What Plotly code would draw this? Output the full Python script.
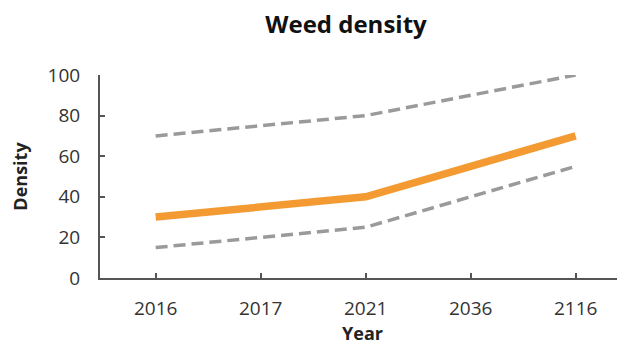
import plotly.graph_objects as go

years = ["2016", "2017", "2021", "2036", "2116"]
density = [30, 35, 40, 55, 70]
upper = [70, 75, 80, 90, 100]
lower = [15, 20, 25, 40, 55]
y_ticks = [0, 20, 40, 60, 80, 100]

FONT = "Open Sans, Lato, sans-serif"

fig = go.Figure()
fig.add_trace(go.Scatter(x=years, y=upper, mode="lines",
                         line=dict(color="#9a9a9a", width=3.5, dash="12px,6px")))
fig.add_trace(go.Scatter(x=years, y=lower, mode="lines",
                         line=dict(color="#9a9a9a", width=3.5, dash="12px,6px")))
fig.add_trace(go.Scatter(x=years, y=density, mode="lines",
                         line=dict(color="#f39a32", width=7.5)))

fig.update_layout(
    width=617, height=339,
    margin=dict(l=92, r=0, t=67, b=69),
    paper_bgcolor="white", plot_bgcolor="white",
    showlegend=False,
    font=dict(family=FONT, color="#333333"),
    title=dict(text="<b>Weed density</b>", x=(346 - 8) / 617, xanchor="center",
               y=1 - (25 - 8) / 339, yanchor="middle",
               font=dict(size=24, color="#111111", family=FONT)),
)
fig.update_xaxes(
    type="category", range=[-0.53, 4.47],
    showline=True, linecolor="#555555", linewidth=2,
    ticks="inside", ticklen=5, tickwidth=1.5, tickcolor="#555555",
    showgrid=False, zeroline=False,
    ticklabelstandoff=12,
    tickfont=dict(size=19, color="#333333"),
    title=dict(text="<b>Year</b>", font=dict(size=18, color="#222222"), standoff=6),
)
fig.update_yaxes(
    range=[0, 100], tickvals=y_ticks,
    showline=True, linecolor="#555555", linewidth=2,
    ticks="inside", ticklen=5, tickwidth=1.5, tickcolor="#555555",
    showgrid=False, zeroline=False,
    ticklabelstandoff=14,
    tickfont=dict(size=19, color="#333333"),
    title=dict(text="<b>Density</b>", font=dict(size=18, color="#222222"), standoff=18),
)

fig.write_html("out.html")
